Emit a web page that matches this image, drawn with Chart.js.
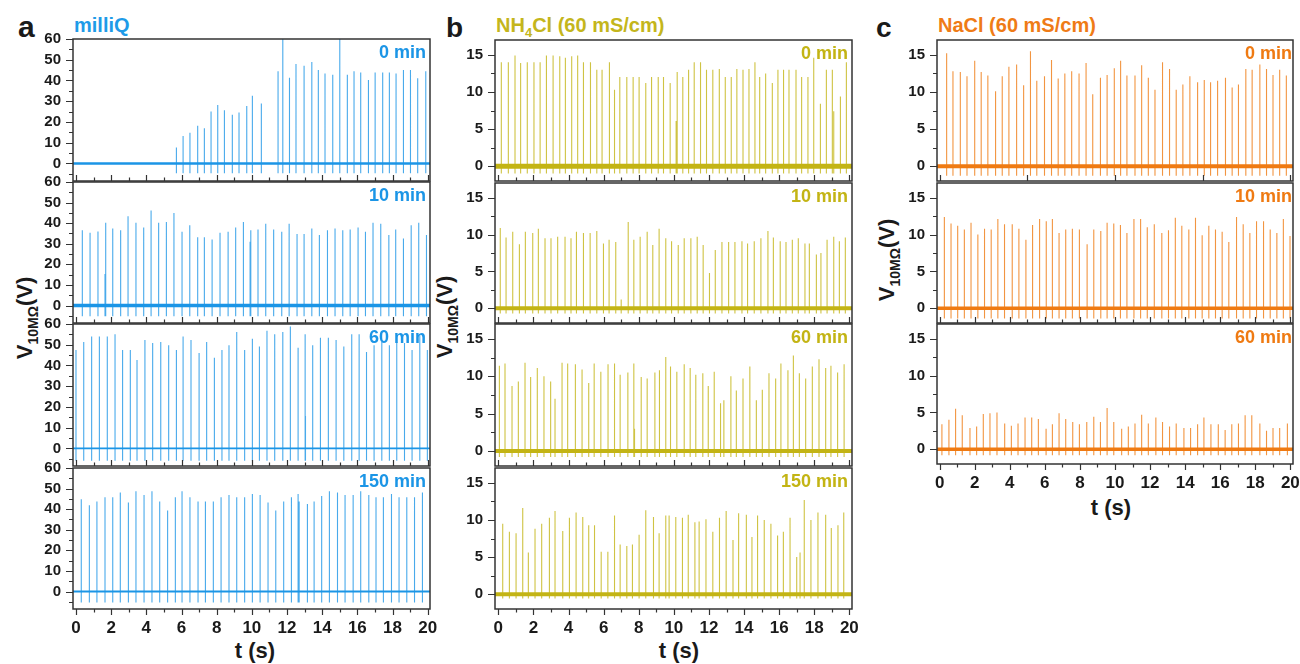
<!DOCTYPE html>
<html>
<head>
<meta charset="utf-8">
<script src="https://cdn.jsdelivr.net/npm/chart.js@4.4.1/dist/chart.umd.min.js"></script>
<style>
body{margin:0;width:1300px;height:664px;background:#fff;position:relative;overflow:hidden;
  font-family:"Liberation Sans",Arial,sans-serif;font-weight:bold;color:#1a1a1a}
canvas{position:absolute}
.t{position:absolute;white-space:nowrap;line-height:1}
.ytitle{position:absolute;white-space:nowrap;line-height:1;font-size:22px;transform:translate(-50%,-50%) rotate(-90deg)}
.ytitle sub{font-size:14px;vertical-align:baseline;position:relative;top:6px}
.xtitle{position:absolute;white-space:nowrap;line-height:1;font-size:22px;transform:translateX(-50%)}
</style>
</head>
<body>
<div class="t" style="left:18px;top:12px;font-size:30px">a</div>
<div class="t" style="left:446px;top:14px;font-size:28px">b</div>
<div class="t" style="left:876px;top:14px;font-size:28px">c</div>

<div class="t" style="left:74px;top:15px;font-size:20px;color:#1e9be8">milliQ</div>
<div class="t" style="left:496px;top:15px;font-size:20px;color:#c4b61c">NH<span style="font-size:13px;position:relative;top:5px">4</span>Cl (60 mS/cm)</div>
<div class="t" style="left:938px;top:15px;font-size:20px;color:#ef7b16">NaCl (60 mS/cm)</div>

<div class="ytitle" style="left:25px;top:318px">V<sub>10MΩ</sub>(V)</div>
<div class="ytitle" style="left:445px;top:317px">V<sub>10MΩ</sub>(V)</div>
<div class="ytitle" style="left:887px;top:260px">V<sub>10MΩ</sub>(V)</div>

<div class="xtitle" style="left:255px;top:640px">t (s)</div>
<div class="xtitle" style="left:679px;top:640px">t (s)</div>
<div class="xtitle" style="left:1111px;top:497px">t (s)</div>

<script>
const BLUE = "#1b95e6", OLIVE = "#c3b414", ORANGE = "#ef7a12";
const BLUE_SPIKE = "rgba(27,149,230,0.8)", OLIVE_SPIKE = "rgba(195,180,20,0.8)", ORANGE_SPIKE = "rgba(239,122,18,0.8)";

const labelsA = ["0 min","10 min","60 min","150 min"];
const labelsB = ["0 min","10 min","60 min","150 min"];
const labelsC = ["0 min","10 min","60 min"];

// milliQ
const a0Times = [5.71,6.09,6.48,6.92,7.30,7.68,8.06,8.44,8.89,9.27,9.71,10.03,10.54,11.49,11.76,12.14,12.51,12.97,13.41,13.78,14.16,14.60,15.00,15.43,15.81,16.19,16.63,17.01,17.44,17.82,18.20,18.62,19.02,19.43,19.89];
const a0Volts = [7.7,13.2,14.8,18.1,16.9,25.0,28.2,25.6,23.4,24.5,27.7,32.6,28.9,44.5,60,41.3,48.0,47.1,48.9,45.0,43.4,42.7,60,42.7,44.4,43.9,40.2,43.9,43.9,43.9,43.4,45.0,45.0,41.1,44.5];
const a10Times = [0.36,0.80,1.25,1.69,2.09,2.54,2.96,3.41,3.85,4.27,4.70,5.14,5.57,6.03,6.47,6.92,7.30,7.74,8.19,8.65,9.08,9.52,9.94,10.35,10.79,11.24,11.70,12.12,12.57,12.97,13.41,13.84,14.30,14.73,15.17,15.59,16.04,16.46,16.89,17.33,17.79,18.18,18.62,19.06,19.49,19.93,1.65,9.90];
const a10Volts = [36.5,35.3,36.0,40.2,37.4,36.5,43.4,40.2,37.9,46.1,40.2,40.6,45.0,35.8,39.0,33.1,33.1,32.1,35.3,35.8,37.9,40.6,36.5,36.9,39.7,36.9,35.8,39.7,34.7,34.7,37.4,34.2,36.5,37.4,36.5,36.9,37.9,35.8,40.2,39.7,34.2,36.9,32.6,39.0,40.2,34.2,15.3,31.0];
const a60Times = [0.00,0.44,0.89,1.33,1.78,2.22,2.65,3.09,3.47,3.92,4.36,4.82,5.27,5.71,6.09,6.54,7.00,7.43,7.87,8.30,8.70,9.14,9.59,10.03,10.43,10.86,11.30,11.76,12.19,12.63,13.03,13.46,13.90,14.35,14.79,15.23,15.68,16.10,16.52,16.95,17.39,17.82,18.24,18.68,19.11,19.55,19.98,13.05];
const a60Volts = [47.4,51.3,54.0,54.0,54.0,55.1,47.4,47.4,42.6,52.3,50.8,51.3,49.7,47.4,54.0,52.3,46.0,51.3,43.7,47.4,49.7,56.1,47.4,52.9,49.2,56.8,55.1,56.1,58.8,48.6,55.1,49.7,53.4,53.4,52.3,49.2,55.1,55.1,46.5,49.7,51.3,49.7,51.3,50.8,47.4,55.1,47.4,15.6];
const a150Times = [0.30,0.76,1.19,1.65,2.09,2.52,2.98,3.41,3.87,4.32,4.76,5.21,5.65,6.03,6.48,6.94,7.36,7.81,8.25,8.70,9.14,9.59,10.03,10.47,10.92,11.36,11.81,12.25,12.63,13.16,13.54,13.97,14.41,14.87,15.30,15.76,16.19,16.65,17.06,17.48,17.94,18.37,18.81,19.25,19.70,12.69];
const a150Volts = [44.8,41.9,43.7,45.8,45.8,48.1,43.2,48.7,46.9,48.7,43.7,39.3,45.8,48.7,45.8,43.7,43.7,43.7,45.8,46.9,45.8,45.8,47.4,46.9,43.2,39.3,43.7,45.8,47.4,42.5,43.7,46.4,48.7,48.1,46.9,46.9,48.7,46.9,45.8,45.8,47.4,45.8,45.8,45.8,48.1,43.7];

// NH4Cl
const b0Times = [0.17,0.57,0.95,1.27,1.65,2.03,2.38,2.74,3.12,3.50,3.82,4.18,4.52,4.85,5.25,5.61,5.91,6.33,6.62,6.92,7.32,7.68,8.02,8.40,8.73,9.11,9.41,9.79,10.13,10.19,10.51,10.84,11.16,11.52,11.86,12.22,12.59,12.93,13.27,13.59,13.94,14.28,14.62,14.89,15.23,15.61,15.93,16.25,16.56,16.96,17.28,17.64,17.97,18.35,18.69,19.03,19.11,19.49,19.83];
const b0Volts = [14.0,14.0,14.9,13.9,14.0,14.0,14.0,14.9,14.9,14.8,14.6,14.8,14.9,14.0,14.0,13.0,13.0,14.0,10.3,12.0,12.0,12.0,12.0,11.2,12.0,12.0,12.0,11.2,6.1,12.7,12.0,13.0,14.0,14.0,13.0,13.0,13.1,12.0,12.0,13.1,13.0,13.1,14.0,12.0,12.5,11.2,13.0,13.0,13.0,13.0,12.0,12.0,14.6,8.4,13.0,13.0,7.4,9.4,14.0];
const b10Times = [0.11,0.44,0.82,1.20,1.54,1.96,2.28,2.66,3.00,3.38,3.80,4.14,4.45,4.85,5.23,5.61,5.99,6.31,6.69,7.00,7.40,7.72,8.08,8.48,8.80,9.16,9.54,9.87,10.25,10.59,10.97,11.33,11.67,12.03,12.36,12.74,13.12,13.48,13.88,14.20,14.58,14.96,15.36,15.67,16.06,16.39,16.75,17.09,17.47,17.72,18.12,18.38,18.73,19.11,19.43,19.77];
const b10Volts = [10.9,9.6,10.4,8.7,10.4,10.2,10.8,9.5,9.5,9.7,9.7,9.5,10.4,10.2,10.2,10.5,8.8,9.3,9.0,1.2,11.7,9.3,9.7,10.4,8.6,10.8,9.5,9.1,8.6,9.5,9.5,9.7,8.6,4.8,7.9,9.0,9.0,9.0,9.1,8.8,9.1,9.5,10.5,9.6,9.1,9.0,9.3,9.5,8.8,8.8,7.3,7.5,9.3,9.7,9.1,9.6];
const b60Times = [0.06,0.38,0.78,1.14,1.52,1.84,2.22,2.60,2.98,3.23,3.63,3.95,4.39,4.77,5.15,5.46,5.84,6.25,6.62,6.94,7.38,7.72,8.14,8.48,8.92,9.18,9.54,9.81,10.17,10.59,10.93,11.25,11.65,11.96,12.30,12.66,12.85,13.25,13.56,13.94,14.33,14.70,15.04,15.42,15.80,16.10,16.50,16.81,17.15,17.51,17.89,18.27,18.65,18.95,19.33,19.70,7.76];
const b60Volts = [11.4,11.7,8.7,9.3,11.8,9.9,11.1,10.0,9.3,7.0,11.8,11.7,11.6,10.9,9.1,11.7,10.6,11.6,11.7,10.2,10.5,11.7,9.9,9.7,10.5,10.8,12.6,11.3,10.6,11.6,11.1,10.2,10.4,8.7,10.6,6.4,6.8,10.0,8.1,9.7,11.3,6.8,8.2,10.4,9.7,11.7,10.8,12.8,10.4,9.7,11.3,12.3,11.1,11.4,10.5,11.6,3.0];
const b150Times = [0.25,0.63,1.01,1.39,1.71,2.09,2.47,2.91,3.23,3.67,4.05,4.43,4.81,5.15,5.48,5.86,6.24,6.62,6.94,7.32,7.64,8.02,8.40,8.84,9.16,9.54,9.73,10.11,10.49,10.82,11.20,11.44,11.83,12.22,12.60,12.98,13.37,13.69,14.13,14.45,14.77,15.15,15.53,15.91,16.24,16.62,17.00,17.19,17.43,17.81,18.21,18.65,18.97,19.35,19.68];
const b150Volts = [9.5,8.4,8.2,11.6,5.6,8.8,9.5,10.3,11.2,8.5,10.3,11.0,10.4,9.3,9.3,5.7,5.7,10.6,6.7,6.5,6.7,8.0,11.3,10.4,8.2,10.6,10.6,10.4,10.3,10.7,9.7,9.8,10.1,8.4,10.3,11.2,7.3,10.9,10.7,7.7,10.6,10.0,9.5,7.9,8.4,10.3,5.0,5.6,12.7,10.0,11.0,10.7,8.9,9.3,11.0];

// NaCl
const c0Times = [0.40,0.76,1.18,1.56,2.00,2.37,2.75,3.19,3.57,3.95,4.39,4.79,5.18,5.54,5.98,6.38,6.76,7.14,7.53,7.95,8.35,8.73,9.17,9.55,9.96,10.32,10.68,11.14,11.52,11.90,12.28,12.71,13.11,13.49,13.87,14.27,14.71,15.09,15.45,15.85,16.30,16.68,17.04,17.46,17.82,18.26,18.64,19.01,19.39,19.77];
const c0Volts = [15.2,12.8,12.7,12.1,14.2,12.7,12.2,10.1,12.1,13.4,13.7,10.9,15.5,11.5,12.1,14.3,11.8,12.5,12.8,12.5,13.9,9.7,11.9,12.3,13.2,14.2,12.2,12.2,13.6,11.9,10.3,14.0,13.1,10.3,11.0,12.1,11.3,11.6,11.3,11.5,11.9,10.6,11.0,13.1,13.0,13.7,13.1,12.3,13.0,12.2];
const c10Times = [0.27,0.65,1.03,1.41,1.79,2.18,2.56,2.94,3.32,3.70,4.14,4.52,4.92,5.30,5.70,6.08,6.43,6.81,7.19,7.57,7.97,8.41,8.79,9.19,9.55,9.93,10.31,10.68,11.08,11.46,11.84,12.24,12.67,13.05,13.44,13.81,14.21,14.59,14.97,15.35,15.73,16.11,16.49,16.93,17.31,17.69,18.07,18.47,18.85,19.23,19.60,19.98];
const c10Volts = [12.4,11.5,11.2,10.7,11.6,10.0,10.8,10.7,12.1,11.4,11.4,10.8,9.3,11.3,12.1,11.8,12.1,10.2,10.7,10.8,10.7,8.7,10.7,10.5,11.6,11.5,11.3,10.2,12.1,12.1,11.0,11.4,10.2,10.6,12.3,11.2,10.7,12.3,9.9,11.2,10.7,10.4,9.0,12.4,11.4,10.2,11.8,11.8,10.7,10.2,12.1,9.8];
const c60Times = [0.13,0.53,0.91,1.29,1.73,2.11,2.49,2.87,3.27,3.71,4.09,4.47,4.87,5.25,5.63,6.07,6.43,6.81,7.19,7.59,7.97,8.39,8.79,9.17,9.55,9.93,10.38,10.76,11.14,11.52,11.90,12.33,12.71,13.11,13.49,13.93,14.31,14.71,15.07,15.47,15.89,16.28,16.66,17.04,17.42,17.80,18.26,18.64,19.01,19.39,19.83];
const c60Volts = [3.4,4.0,5.5,4.6,2.9,3.1,4.8,4.9,5.0,3.5,3.2,3.5,4.3,4.3,4.1,2.8,3.4,4.9,4.1,3.7,3.4,3.7,4.4,3.7,5.6,3.7,2.8,3.1,3.5,4.7,3.5,4.3,3.7,3.1,3.5,2.9,2.9,3.4,4.3,3.4,3.4,2.6,3.4,3.5,4.6,4.6,3.5,2.5,2.9,2.9,3.5];

// negative undershoot after each spike
const dipsA = [-4.8,-5.2,-6.0,-5.4];
const dipsB = [-1.0,-0.7,-0.8,-0.6];
const dipsC = [-1.3,-1.4,-0.8];

// frame, minor ticks and inward ticks are not native to Chart.js
const framePlugin = {
  id: "frame",
  afterDraw(chart, args, o) {
    const {ctx, chartArea: a, scales: {x, y}} = chart;
    ctx.save();
    ctx.strokeStyle = "#333";
    ctx.lineWidth = 1.5;
    ctx.strokeRect(a.left, a.top, a.right - a.left, a.bottom - a.top);
    ctx.lineWidth = 1.2;
    ctx.beginPath();
    const n0 = Math.ceil(y.min / o.yMinor - 1e-9), n1 = Math.floor(y.max / o.yMinor + 1e-9);
    for (let n = n0; n <= n1; n++) {
      const v = n * o.yMinor, py = Math.round(y.getPixelForValue(v)) + 0.5;
      const len = Math.abs(v / o.yMajor - Math.round(v / o.yMajor)) < 1e-6 ? 7 : 4;
      ctx.moveTo(a.left - len, py); ctx.lineTo(a.left, py);
    }
    const dir = o.outside ? 1 : -1;
    for (let n = 0; n * o.xMinor <= 20 + 1e-9; n++) {
      const v = n * o.xMinor, px = Math.round(x.getPixelForValue(v)) + 0.5;
      const len = Math.abs(v / o.xMajor - Math.round(v / o.xMajor)) < 1e-6 ? 6 : 3.5;
      ctx.moveTo(px, a.bottom); ctx.lineTo(px, a.bottom + dir * len);
    }
    ctx.stroke();
    ctx.restore();
  }
};

const colA = {L:73, R:430, xr:[-0.17,20.13], yr:[-8.5,60], yStep:10, yMinor:5, color:BLUE, spike:BLUE_SPIKE, right:4};
const colB = {L:495, R:852, xr:[-0.19,20.15], yr:[-2,17], yStep:5, yMinor:2.5, color:OLIVE, spike:OLIVE_SPIKE, right:4};
const colC = {L:937, R:1293, xr:[-0.15,20.15], yr:[-2,17], yStep:5, yMinor:2.5, color:ORANGE, spike:ORANGE_SPIKE, right:1};

const panels = [
  {...colA, T:39, B:181, t:a0Times, v:a0Volts, dip:dipsA[0], label:labelsA[0], base:2.5, xt:[2,1]},
  {...colA, T:182, B:323, t:a10Times, v:a10Volts, dip:dipsA[1], label:labelsA[1], base:3.5, xt:[2,1]},
  {...colA, T:324, B:466, t:a60Times, v:a60Volts, dip:dipsA[2], label:labelsA[2], base:1.6, xt:[2,1]},
  {...colA, T:468, B:609, t:a150Times, v:a150Volts, dip:dipsA[3], label:labelsA[3], base:2.2, xt:[2,1], bottom:true},
  {...colB, T:40, B:181, t:b0Times, v:b0Volts, dip:dipsB[0], label:labelsB[0], base:5, xt:[2,1]},
  {...colB, T:183, B:323, t:b10Times, v:b10Volts, dip:dipsB[1], label:labelsB[1], base:4, xt:[2,1]},
  {...colB, T:324, B:466, t:b60Times, v:b60Volts, dip:dipsB[2], label:labelsB[2], base:4, xt:[2,1]},
  {...colB, T:468, B:609, t:b150Times, v:b150Volts, dip:dipsB[3], label:labelsB[3], base:4, xt:[2,1], bottom:true},
  {...colC, T:40, B:181, t:c0Times, v:c0Volts, dip:dipsC[0], label:labelsC[0], base:4, xt:[5,5]},
  {...colC, T:183, B:323, t:c10Times, v:c10Volts, dip:dipsC[1], label:labelsC[1], base:3.5, xt:[2,1]},
  {...colC, T:324, B:464, t:c60Times, v:c60Volts, dip:dipsC[2], label:labelsC[2], base:3.5, xt:[2,1], bottom:true}
];

function makePanel(p) {
  const padT = 10, padR = 16, yW = 70, xH = p.bottom ? 50 : 6;
  const w = p.R - p.L + yW + padR, h = p.B - p.T + padT + xH;
  const c = document.createElement("canvas");
  c.width = w; c.height = h;
  c.style.left = (p.L - yW) + "px"; c.style.top = (p.T - padT) + "px";
  c.style.width = w + "px"; c.style.height = h + "px";
  document.body.appendChild(c);

  const spikes = [];
  p.t.forEach((t, i) => spikes.push({x:t, y:p.dip}, {x:t, y:p.v[i]}, {x:t, y:null}));

  const noPad = s => { s.paddingTop = 0; s.paddingBottom = 0; s.paddingLeft = 0; s.paddingRight = 0; };
  new Chart(c, {
    type: "line",
    data: {datasets: [
      {data: [{x:p.xr[0], y:0}, {x:p.xr[1], y:0}], borderColor: p.color, borderWidth: p.base, pointRadius: 0},
      {data: spikes, borderColor: p.spike, borderWidth: 1.1, pointRadius: 0, spanGaps: false}
    ]},
    options: {
      responsive: false, animation: false, devicePixelRatio: 1, events: [],
      layout: {padding: {left: 0, top: padT, right: padR, bottom: 0}},
      plugins: {legend: {display: false}, tooltip: {enabled: false},
        frame: {yMajor: p.yStep, yMinor: p.yMinor, xMajor: p.xt[0], xMinor: p.xt[1], outside: !!p.bottom}},
      scales: {
        x: {type: "linear", min: p.xr[0], max: p.xr[1],
          grid: {display: false, drawTicks: false}, border: {display: false},
          ticks: {display: !!p.bottom, stepSize: 2, includeBounds: false, maxRotation: 0, autoSkip: false,
            padding: 9, color: "#1a1a1a", font: {family: "Liberation Sans", weight: "bold", size: 17}},
          afterFit: s => { s.height = xH; noPad(s); }},
        y: {min: p.yr[0], max: p.yr[1],
          grid: {display: false, drawTicks: false}, border: {display: false},
          ticks: {stepSize: p.yStep, includeBounds: false, padding: 12, color: "#1a1a1a",
            font: {family: "Liberation Sans", weight: "bold", size: 15},
            callback: v => v >= 0 && v <= p.yr[1] ? v : ""},
          afterFit: s => { s.width = yW; noPad(s); }}
      }
    },
    plugins: [framePlugin]
  });

  const tag = document.createElement("div");
  tag.className = "t";
  tag.textContent = p.label;
  tag.style.cssText += `right:${1300 - p.R + p.right}px;top:${p.T + 4}px;font-size:18px;color:${p.color}`;
  document.body.appendChild(tag);
}

panels.forEach(makePanel);
</script>
</body>
</html>
